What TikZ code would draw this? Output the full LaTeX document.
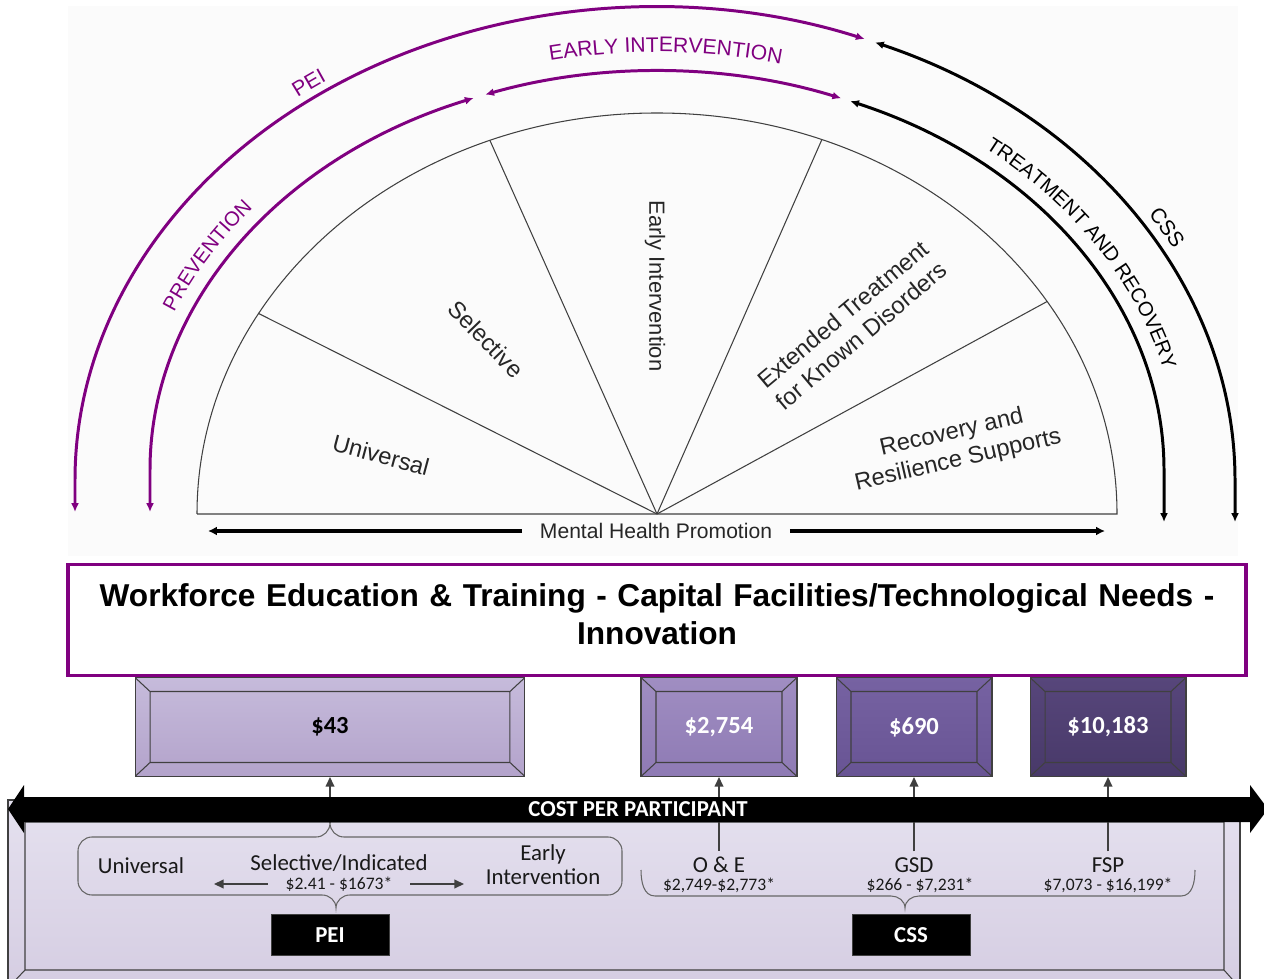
\documentclass[tikz,border=0pt]{standalone}
\usepackage{fontspec}
\setmainfont{Liberation Sans}
\newfontfamily\calib{Carlito}
\usepackage{tikz}
\usetikzlibrary{arrows.meta,positioning,decorations.text}

\definecolor{peipurple}{HTML}{800080}
\definecolor{bevelgray}{HTML}{404040}
\definecolor{panelTop}{HTML}{E5E1EF}
\definecolor{panelBot}{HTML}{D5CDE2}

\tikzstyle{fanline} = [draw=black!75, line width=0.6pt]
\tikzstyle{fantext} = [font=\fontsize{13.5}{16}\selectfont, align=center, text=black!85]
\tikzstyle{purplearc} = [draw=peipurple, line width=1.7pt, {Latex[length=5pt,width=4.5pt]}-{Latex[length=5pt,width=4.5pt]}]
\tikzstyle{blackarc} = [draw=black, line width=1.7pt, {Latex[length=5pt,width=4.5pt]}-{Latex[length=5pt,width=4.5pt]}]
\tikzstyle{arclabel} = [decorate, decoration={text along path, text align=center}]
\tikzstyle{mharrow} = [draw=black, line width=2pt, -{Latex[length=5pt,width=5pt]}]
\tikzstyle{titlebox} = [rectangle, draw=peipurple, line width=2pt, fill=white, minimum width=23.56cm, minimum height=2.22cm, text width=23.2cm, align=center, font=\bfseries\fontsize{18}{21.6}\selectfont]
\tikzstyle{costbox} = [rectangle, draw=bevelgray, line width=0.6pt, minimum height=1.98cm, text centered, font=\calib\bfseries\fontsize{14}{16}\selectfont,
  path picture={\draw[bevelgray, line width=0.6pt]
    ([shift={(0.3cm,-0.28cm)}]path picture bounding box.north west) rectangle ([shift={(-0.3cm,0.28cm)}]path picture bounding box.south east)
    (path picture bounding box.north west) -- ++(0.3cm,-0.28cm)
    (path picture bounding box.north east) -- ++(-0.3cm,-0.28cm)
    (path picture bounding box.south west) -- ++(0.3cm,0.28cm)
    (path picture bounding box.south east) -- ++(-0.3cm,0.28cm);}]
\tikzstyle{uparrow} = [draw=bevelgray, line width=0.8pt, -{Triangle[length=5.5pt,width=5pt]}]
\tikzstyle{grayarrow} = [draw=bevelgray, line width=0.8pt, -{Triangle[length=5.5pt,width=5pt]}]
\tikzstyle{bracegray} = [draw=black!60, line width=0.6pt]
\tikzstyle{plabel} = [font=\calib\fontsize{13}{13.5}\selectfont, align=center, text=black!90]
\tikzstyle{pcost} = [font=\calib\fontsize{10}{12}\selectfont, text=black!90]
\tikzstyle{progbox} = [rectangle, fill=black, draw=bevelgray, minimum width=2.36cm, minimum height=0.82cm, text=white, font=\calib\bfseries\fontsize{13}{15}\selectfont]

\begin{document}
\begin{tikzpicture}[x=0.02cm, y=0.02cm, node distance=1cm]
\useasboundingbox (0,0) rectangle (1264,-979);

% continuum
\fill[gray!3] (68,-6) rectangle (1238,-556);
\coordinate (fanc) at (657,-514);
\draw[fanline] (197,-514) -- (1117,-514) arc[start angle=0, end angle=180, x radius=460, y radius=401];
\foreach \a in {150,111.3,69,32}
  \draw[fanline] (fanc) -- ++(\a:460 and 401);

\node (univ fan) [fantext, rotate=-15] at (381,-455) {Universal};
\node (sel fan) [fantext, rotate=-46] at (486,-339) {Selective};
\node (ei fan) [fantext, rotate=-90, font=\fontsize{12.5}{15}\selectfont] at (655,-286) {Early Intervention};
\node (ext fan) [fantext, rotate=40] at (852,-325) {Extended Treatment\\for Known Disorders};
\node (rec fan) [fantext, rotate=13] at (955,-447) {Recovery and\\Resilience Supports};

\node (mhp) [font=\fontsize{12}{14}\selectfont, text=black!85, inner xsep=10pt] at (656,-531) {Mental Health Promotion};
\coordinate (mhpleft) at (208,-531);
\coordinate (mhpright) at (1105,-531);
\draw[mharrow] (mhp) -- (mhpleft);
\draw[mharrow] (mhp) -- (mhpright);

% arcs
\draw[purplearc] (75,-512) -- (75,-480) arc[start angle=180, end angle=68.8, x radius=580, y radius=473];
\draw[purplearc] (150,-512) -- (150,-470) arc[start angle=180, end angle=111.2, x radius=507, y radius=399];
\draw[purplearc] (657,-470) ++(109.8:507 and 399) arc[start angle=109.8, end angle=68.7, x radius=507, y radius=399];
\draw[blackarc] (657,-470) ++(67.6:507 and 399) arc[start angle=67.6, end angle=0, x radius=507, y radius=399] -- (1164,-522);
\draw[blackarc] (655,-480) ++(67.7:580 and 473) arc[start angle=67.7, end angle=0, x radius=580, y radius=473] -- (1235,-522);

\path[arclabel, decoration={text color=peipurple, text={|\fontsize{12}{14}\selectfont|PEI}}]
  (655,-480) ++(141:588 and 481) arc[start angle=141, end angle=111, x radius=588, y radius=481];
\path[arclabel, decoration={text color=peipurple, text={|\fontsize{11.5}{14}\selectfont|PREVENTION}}]
  (657,-470) ++(173:522 and 414) arc[start angle=173, end angle=127, x radius=522, y radius=414];
\path[arclabel, decoration={text color=peipurple, text={|\fontsize{12}{14}\selectfont|EARLY INTERVENTION}}]
  (657,-470) ++(120:524 and 418) arc[start angle=120, end angle=58, x radius=524, y radius=418];
\path[arclabel, decoration={text color=black, text={|\fontsize{11.5}{14}\selectfont|TREATMENT AND RECOVERY}}]
  (657,-470) ++(62:522 and 414) arc[start angle=62, end angle=1, x radius=522, y radius=414];
\path[arclabel, decoration={text color=black, text={|\fontsize{12}{14}\selectfont|CSS}}]
  (655,-480) ++(45.5:590 and 484) arc[start angle=45.5, end angle=15.5, x radius=590, y radius=484];

% funding box
\node (wet) [titlebox] at (657,-620) {Workforce Education \& Training - Capital Facilities/Technological Needs -\\Innovation\\[-15pt]\mbox{}};

% cost panel
\shade[top color=panelTop, bottom color=panelBot, draw=bevelgray, line width=0.6pt] (8,-800) rectangle (1240,-988);
\draw[bevelgray, line width=0.6pt] (25,-822) rectangle (1224,-970)
  (1240,-800) -- (1224,-822) (8,-988) -- (25,-970) (1240,-988) -- (1224,-970);

\node (cost43) [costbox, minimum width=7.8cm, top color={rgb,255:red,198;green,187;blue,219}, bottom color={rgb,255:red,179;green,163;blue,203}] at (330,-727) {\$43};
\node (cost2754) [costbox, minimum width=3.12cm, top color={rgb,255:red,160;green,142;blue,194}, bottom color={rgb,255:red,142;green,122;blue,180}, text=white] at (719,-727) {\$2,754};
\node (cost690) [costbox, minimum width=3.12cm, top color={rgb,255:red,118;green,98;blue,162}, bottom color={rgb,255:red,104;green,84;blue,148}, text=white] at (914,-727) {\$690};
\node (cost10183) [costbox, minimum width=3.12cm, top color={rgb,255:red,87;green,70;blue,123}, bottom color={rgb,255:red,72;green,57;blue,105}, text=white] at (1108,-727) {\$10,183};

% PEI side
\node (univ) [plabel] at (141,-866) {Universal};
\node (selind) [plabel] at (339,-863) {Selective/Indicated};
\node (selcost) [pcost, inner xsep=10pt] at (339,-884) {\$2.41 - \$1673*};
\node (earlyint) [plabel] at (543,-865) {Early\\Intervention};
\coordinate (selleft) at (214,-884);
\coordinate (selright) at (464,-884);
\draw[grayarrow] (selcost) -- (selleft);
\draw[grayarrow] (selcost) -- (selright);
\coordinate (peitip) at (330,-823);
\draw[bracegray] (peitip) to[out=-90,in=0] (316,-837) -- (92,-837) to[out=180,in=90] (78,-851) -- (78,-881) to[out=-90,in=180] (92,-895) -- (322,-895) to[out=0,in=90] (336,-908) to[out=90,in=180] (350,-895) -- (608,-895) to[out=0,in=-90] (622,-881) -- (622,-851) to[out=90,in=0] (608,-837) -- (344,-837) to[out=180,in=-90] (peitip);
\node (pei) [progbox] at (330,-935) {PEI};

% CSS side
\node (oe) [plabel] at (719,-865) {O \& E};
\node (oecost) [pcost] at (719,-885) {\$2,749-\$2,773*};
\node (gsd) [plabel] at (914,-865) {GSD};
\node (gsdcost) [pcost] at (920,-885) {\$266 - \$7,231*};
\node (fsp) [plabel] at (1108,-865) {FSP};
\node (fspcost) [pcost] at (1108,-885) {\$7,073 - \$16,199*};
\draw[bracegray] (641,-870) to[out=-90,in=180] (655,-896) -- (891,-896) to[out=0,in=90] (905,-908) to[out=90,in=180] (919,-896) -- (1181,-896) to[out=0,in=-90] (1195,-870);
\node (css) [progbox] at (911,-935) {CSS};

% links to the cost boxes
\draw[uparrow] (peitip) -- (cost43);
\draw[uparrow] (oe) -- (cost2754);
\draw[uparrow] (gsd) -- (cost690);
\draw[uparrow] (fsp) -- (cost10183);

% cost bar
\fill[black] (24,-797) -- (1250,-797) -- (1250,-785) -- (1268,-809) -- (1250,-833) -- (1250,-822) -- (24,-822) -- (24,-833) -- (8,-809) -- (24,-785) -- cycle;
\node (costbar) [text=white, font=\calib\bfseries\fontsize{13}{15}\selectfont] at (638,-809) {COST PER PARTICIPANT};
\end{tikzpicture}
\end{document}
